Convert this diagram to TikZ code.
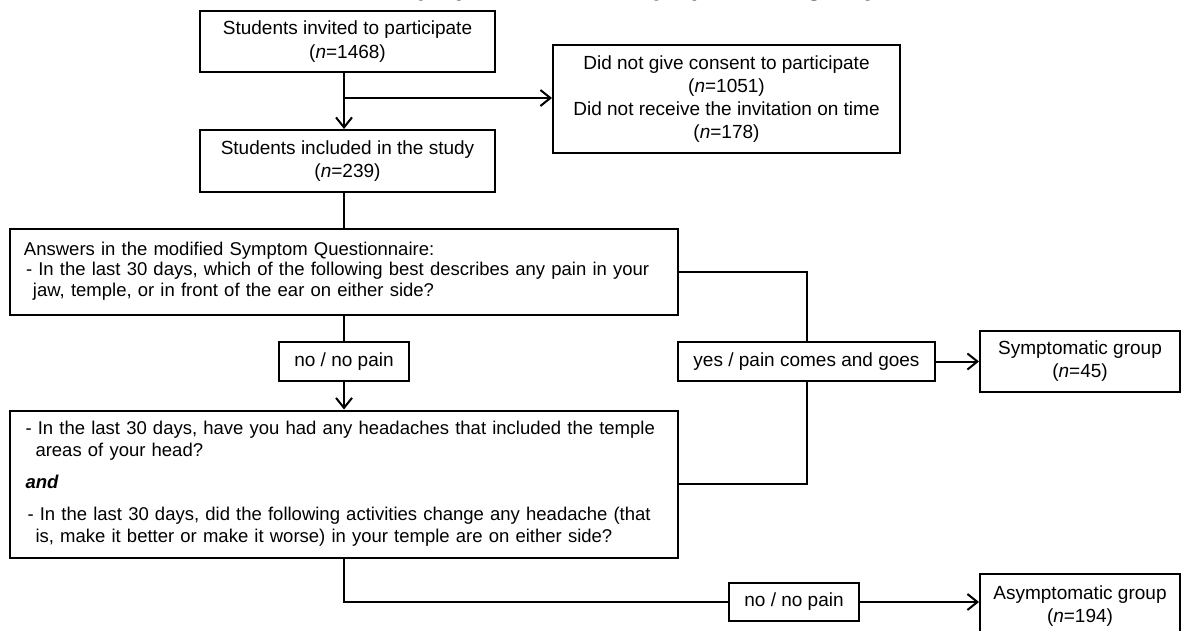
\documentclass[tikz,border=0pt]{standalone}
\usepackage{fontspec}
\setmainfont{Liberation Sans}
\usetikzlibrary{arrows.meta,calc}
\tikzset{
  box/.style={draw, line width=1pt, inner sep=0pt, align=center,
    font=\fontsize{9.5}{11.5}\selectfont},
  lbox/.style={box, align=left, text width=322pt, inner xsep=6pt},
  ln/.style={line width=1pt},
  arr/.style={ln, -{Straight Barb[length=5pt,width=8pt,line width=1pt]}},
}
\begin{document}
\begin{tikzpicture}[x=0.5pt,y=-0.5pt]
\useasboundingbox (0,0) rectangle (1182,631);
% cut-off title
\node[anchor=base west, inner sep=0pt, font=\fontsize{13}{15}\selectfont\bfseries] (title) at (400,-4) {Symptomatic and asymptomatic groups};
% boxes
\node[box, minimum width=147.5pt, minimum height=30.5pt, font=\fontsize{9.5}{12.3}\selectfont] (b1) at (347.5,41.5)
  {Students invited to participate\\(\textit{n}=1468)};
\node[box, minimum width=147.5pt, minimum height=31pt] (b2) at (347.5,161)
  {Students included in the study\\(\textit{n}=239)};
\node[box, minimum width=173.5pt, minimum height=54pt] (b3) at (726.5,99)
  {Did not give consent to participate\\(\textit{n}=1051)\\Did not receive the invitation on time\\(\textit{n}=178)};
\node[lbox, minimum height=43pt, font=\fontsize{9.25}{10.2}\selectfont] (b4) at (344,272)
  {\hspace*{1pt}Answers in the modified Symptom Questionnaire:\\
   \hspace*{2pt}- In the last 30 days, which of the following best describes any pain in your\\
   \hspace*{5.5pt}jaw, temple, or in front of the ear on either side?\\[-7.2pt]\mbox{}};
\node[box, minimum width=65pt, minimum height=19.5pt] (nob) at (344,361.5) {no / no pain};
\node[box, minimum width=128.5pt, minimum height=19.5pt] (yes) at (806.5,361.5) {yes / pain comes and goes};
\node[box, minimum width=100pt, minimum height=30.5pt] (symp) at (1080,361.5)
  {Symptomatic group\\(\textit{n}=45)};
\node[lbox, minimum height=73.5pt, font=\fontsize{9.25}{11}\selectfont] (b5) at (343.5,484)
  {\hspace*{2pt}- In the last 30 days, have you had any headaches that included the temple\\
   \hspace*{7pt}areas of your head?\\[5pt]
   \hspace*{2pt}\textbf{\textit{and}}\\[5pt]
   \hspace*{3pt}- In the last 30 days, did the following activities change any headache (that\\
   \hspace*{7pt}is, make it better or make it worse) in your temple are on either side?};
\node[box, minimum width=65pt, minimum height=19pt] (no2) at (794,602) {no / no pain};
\node[box, minimum width=100pt, minimum height=32pt] (asym) at (1080,606)
  {Asymptomatic group\\(\textit{n}=194)};
% connectors
\coordinate (br) at (344,98);
\draw[arr] (b1.south -| b4.north) -- (b2.north -| b4.north);
\draw[arr] (br) -- (br -| b3.west);
\draw[ln] (b2.south -| b4.north) -- (b4.north);
\draw[ln] (b4.south) -- (nob.north);
\draw[arr] (nob.south) -- (nob.south |- b5.north);
\draw[ln] (b4.east) -- (b4.east -| yes.north) -- (yes.north);
\draw[arr] (yes.east) -- (yes.east -| symp.west);
\draw[ln] (yes.south) |- (b5.east);
\draw[ln] (b5.south -| b4.south) |- (no2.west);
\draw[arr] (no2.east) -- (no2.east -| asym.west);
\end{tikzpicture}
\end{document}
